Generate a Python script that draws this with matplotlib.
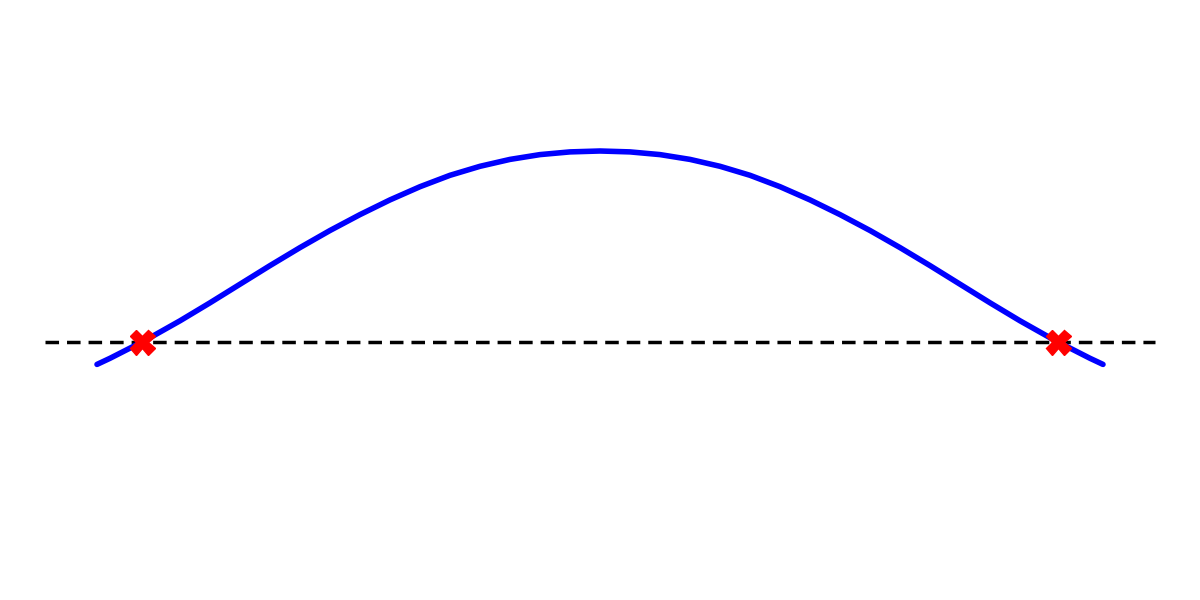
import matplotlib
matplotlib.use("Agg")
import matplotlib.pyplot as plt

# curve: x = distance from the centre, y = height above the dashed line
left_x = [-503, -490, -458, -450, -420, -390, -360, -330, -300, -270,
          -240, -210, -180, -150, -120, -90, -60, -30]
left_y = [-22.4, -16.3, 0.0, 4.3, 21.2, 39.2, 57.8, 76.4, 94.4, 111.5,
          127.4, 142.1, 155.3, 166.7, 175.7, 182.6, 187.4, 190.1]
peak_x = 0
peak_y = 191.0
curve_x = left_x + [peak_x] + [-v for v in reversed(left_x)]
curve_y = left_y + [peak_y] + list(reversed(left_y))

roots_x = [-458, 458]
roots_y = [0, 0]
baseline_x = [-555, 555]
baseline_y = [0, 0]


def main():
    fig = plt.figure(figsize=(12, 6), dpi=100)
    ax = fig.add_axes([0, 0, 1, 1])

    ax.plot(baseline_x, baseline_y, color="black", lw=2.5, ls="--", dashes=(3.9, 2.3))
    ax.plot(curve_x, curve_y, color="blue", lw=4,
            solid_capstyle="round", solid_joinstyle="round")
    ax.plot(roots_x, roots_y, "X", color="red", markersize=18, ls="none")

    ax.set_xlim(-600, 600)
    ax.set_ylim(-258, 342)
    ax.axis("off")

    fig.savefig("out.png", dpi=100)


main()
